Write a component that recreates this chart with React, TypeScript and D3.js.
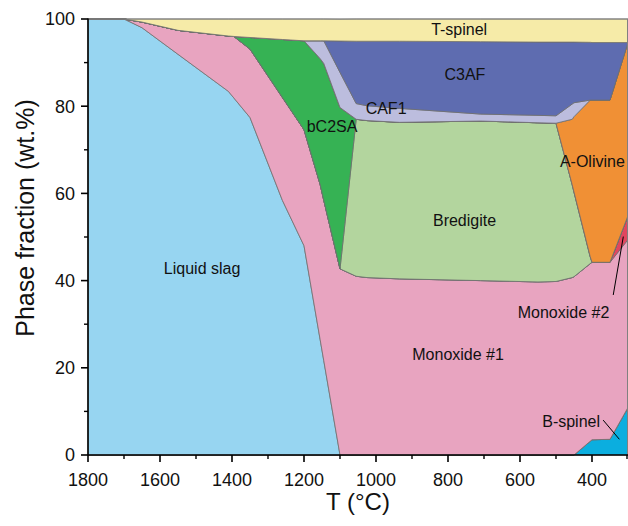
import React from 'react';
import * as d3 from 'd3';

// Temperature grid (°C)
const temps = [1800, 1700, 1650, 1550, 1410, 1395, 1350, 1260, 1200, 1155, 1145, 1100, 1055, 1025, 935, 710, 550, 500, 455, 450, 405, 400, 350, 300];

// Phase fractions (wt.%) at each temperature, stacked bottom -> top
const bSpinel = [0, 0, 0, 0, 0, 0, 0, 0, 0, 0, 0, 0, 0, 0, 0, 0, 0, 0, 0, 0, 3.15, 3.5, 3.6, 10.9];
const liquidSlag = [100, 100, 98.0, 91.9, 83.4, 81.9, 77.4, 58.4, 48.0, 26.4, 21.6, 0, 0, 0, 0, 0, 0, 0, 0, 0, 0, 0, 0, 0];
const monoxide1 = [0, 0, 1.3, 5.5, 12.7, 14.1, 15.7, 23.6, 26.6, 35.6, 36.8, 42.7, 41.0, 40.7, 40.4, 40.0, 39.7, 39.8, 40.7, 40.9, 40.75, 40.7, 40.6, 38.5];
const monoxide2 = [0, 0, 0, 0, 0, 0, 0, 0, 0, 0, 0, 0, 0, 0, 0, 0, 0, 0, 0, 0, 0, 0, 0, 5.5];
const bredigite = [0, 0, 0, 0, 0, 0, 0, 0, 0, 0, 0, 0, 36.0, 36.0, 35.9, 36.6, 36.5, 36.3, 21.3, 19.4, 1.6, 0, 0, 0];
const bC2SA = [0, 0, 0, 0, 0, 0, 2.66, 13.3, 20.4, 28.9, 31.4, 37.0, 0, 0, 0, 0, 0, 0, 0, 0, 0, 0, 0, 0];
const aOlivine = [0, 0, 0, 0, 0, 0, 0, 0, 0, 0, 0, 0, 0, 0, 0, 0, 0, 0, 15.0, 17.3, 35.9, 37.2, 37.2, 39.7];
const caf1 = [0, 0, 0, 0, 0, 0, 0, 0, 0, 4.1, 5.2, 8.05, 3.6, 3.4, 3.2, 1.6, 1.7, 1.7, 3.5, 3.2, 0, 0, 0, 0];
const c3af = [0, 0, 0, 0, 0, 0, 0, 0, 0, 0, 0, 7.2, 14.3, 14.8, 15.4, 16.6, 16.8, 16.9, 14.2, 13.9, 13.25, 13.2, 13.2, 0];
const tSpinel = [0, 0, 0.7, 2.6, 3.9, 4.0, 4.24, 4.7, 5.0, 5.0, 5.0, 5.0, 5.1, 5.1, 5.1, 5.2, 5.3, 5.3, 5.3, 5.3, 5.35, 5.4, 5.4, 5.4];

const seriesKeys = ['B-spinel', 'Liquid slag', 'Monoxide #1', 'Monoxide #2', 'Bredigite', 'bC2SA', 'A-Olivine', 'CAF1', 'C3AF', 'T-spinel'];
const seriesValues = [bSpinel, liquidSlag, monoxide1, monoxide2, bredigite, bC2SA, aOlivine, caf1, c3af, tSpinel];
const seriesColors = ['#0BAEDF', '#97D5F1', '#E8A4C0', '#E1465F', '#B3D59E', '#36B254', '#F09035', '#BCBDDE', '#5E6CB0', '#F6EBA8'];

const xTickLabels = [1800, 1600, 1400, 1200, 1000, 800, 600, 400];
const xMinorTicks = [1700, 1500, 1300, 1100, 900, 700, 500, 300];
const yTickLabels = [0, 20, 40, 60, 80, 100];
const yMinorTicks = [10, 30, 50, 70, 90];

// Phase labels: [text, T, value]
const phaseLabels: [string, number, number][] = [
  ['T-spinel', 769, 97.6],
  ['C3AF', 753, 87.3],
  ['CAF1', 972, 79.4],
  ['bC2SA', 1122, 75.3],
  ['A-Olivine', 399, 67.3],
  ['Bredigite', 754, 53.7],
  ['Liquid slag', 1483, 42.8],
  ['Monoxide #2', 479, 32.8],
  ['Monoxide #1', 772, 23.0],
  ['B-spinel', 458, 7.7],
];
// Leader lines: [T1, v1, T2, v2]
const leaders: [number, number, number, number][] = [
  [341, 36.7, 313, 50.1],
  [369, 8.0, 324, 3.6],
];

const W = 628, H = 526;
const M = { left: 88, right: 628, top: 19, bottom: 455 };
const FONT = "'Liberation Sans', Arial, Helvetica, sans-serif";

export default function App() {
  const x = d3.scaleLinear().domain([1800, 300]).range([M.left, M.right]);
  const y = d3.scaleLinear().domain([0, 100]).range([M.bottom, M.top]);

  const rows = temps.map((t, i) => {
    const r: Record<string, number> = { T: t };
    seriesKeys.forEach((k, j) => { r[k] = seriesValues[j][i]; });
    return r;
  });
  const stacked = d3.stack<Record<string, number>>().keys(seriesKeys)(rows);
  const area = d3.area<d3.SeriesPoint<Record<string, number>>>()
    .x(d => x(d.data.T))
    .y0(d => y(d[0]))
    .y1(d => y(d[1]));

  return (
    <svg width={W} height={H} style={{ position: 'absolute', left: 0, top: 0, background: '#fff' }} fontFamily={FONT}>
      <g>
        {stacked.map((s, i) => (
          <path key={s.key} d={area(s) || ''} fill={seriesColors[i]} stroke="#6e6e6e" strokeWidth={0.8} strokeLinejoin="round" />
        ))}
      </g>
      {/* frame top/right */}
      <line x1={M.left} x2={M.right} y1={M.top} y2={M.top} stroke="#808080" strokeWidth={1.2} />
      <line x1={M.right - 0.5} x2={M.right - 0.5} y1={M.top} y2={M.bottom} stroke="#808080" strokeWidth={1} />
      {/* labels */}
      {phaseLabels.map(([t, T, v]) => (
        <text key={t} x={x(T)} y={y(v)} dy="0.35em" textAnchor="middle" fontSize={16} fill="#111">{t}</text>
      ))}
      {leaders.map((l, i) => (
        <line key={i} x1={x(l[0])} y1={y(l[1])} x2={x(l[2])} y2={y(l[3])} stroke="#000" strokeWidth={1} />
      ))}
      {/* y axis */}
      <line x1={M.left} x2={M.left} y1={M.top - 0.5} y2={M.bottom} stroke="#000" strokeWidth={1.6} />
      {yTickLabels.map(v => (
        <g key={v}>
          <line x1={M.left - 7} x2={M.left} y1={y(v)} y2={y(v)} stroke="#000" strokeWidth={1.6} />
          <text x={M.left - 13} y={y(v)} dy="0.36em" textAnchor="end" fontSize={18} fill="#111">{v}</text>
        </g>
      ))}
      {yMinorTicks.map(v => (
        <line key={v} x1={M.left - 4} x2={M.left} y1={y(v)} y2={y(v)} stroke="#000" strokeWidth={1.4} />
      ))}
      {/* x axis */}
      <line x1={M.left} x2={M.right} y1={M.bottom} y2={M.bottom} stroke="#000" strokeWidth={1.6} />
      {xTickLabels.map(t => (
        <g key={t}>
          <line x1={x(t)} x2={x(t)} y1={M.bottom} y2={M.bottom + 7} stroke="#000" strokeWidth={1.6} />
          <text x={x(t)} y={M.bottom + 31} textAnchor="middle" fontSize={18} fill="#111">{t}</text>
        </g>
      ))}
      {xMinorTicks.map(t => (
        <line key={t} x1={Math.min(x(t), M.right - 1)} x2={Math.min(x(t), M.right - 1)} y1={M.bottom} y2={M.bottom + 4} stroke="#000" strokeWidth={1.4} />
      ))}
      <text x={(M.left + M.right) / 2} y={510} textAnchor="middle" fontSize={24} fill="#111">T (°C)</text>
      <text transform={`translate(34,218) rotate(-90)`} textAnchor="middle" fontSize={25} fill="#111">Phase fraction (wt.%)</text>
    </svg>
  );
}
